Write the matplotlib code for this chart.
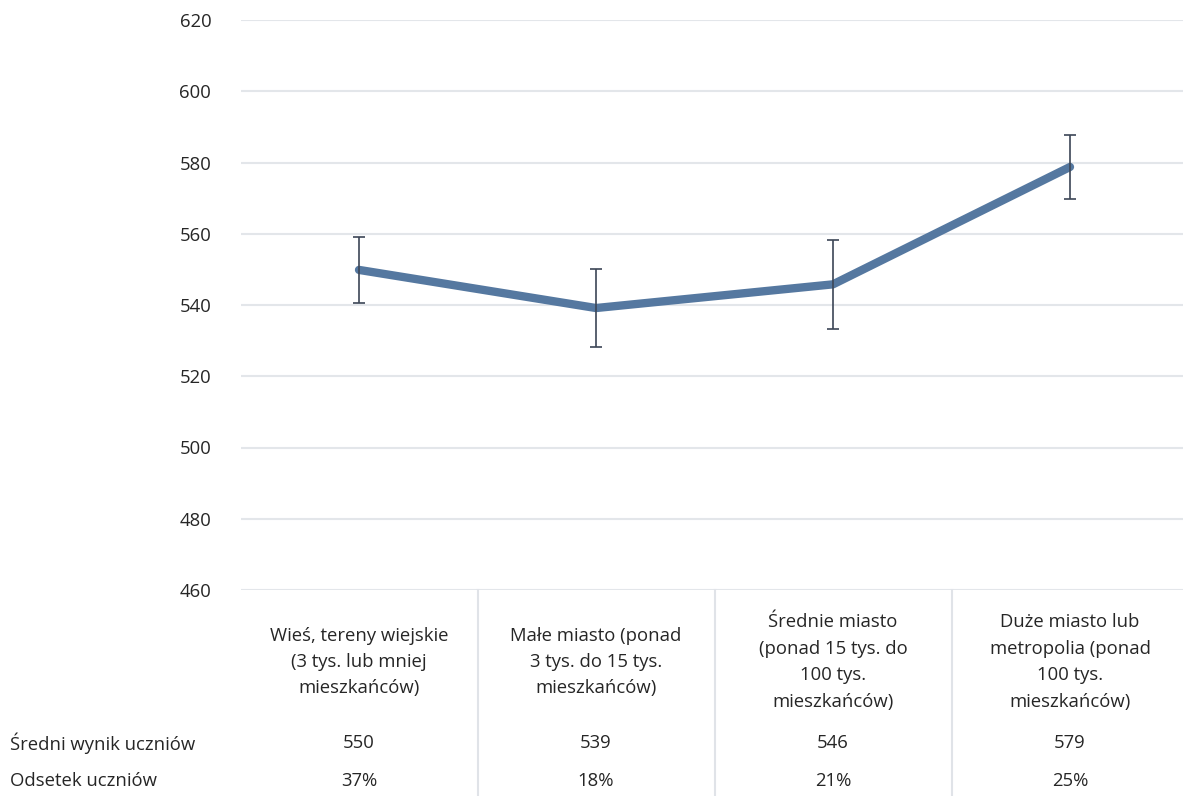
import matplotlib.pyplot as plt
from matplotlib.transforms import blended_transform_factory

plt.rcParams['font.family'] = ['Open Sans', 'DejaVu Sans']

# Dane
kategorie = [
    "Wieś, tereny wiejskie\n(3 tys. lub mniej\nmieszkańców)",
    "Małe miasto (ponad\n3 tys. do 15 tys.\nmieszkańców)",
    "Średnie miasto\n(ponad 15 tys. do\n100 tys.\nmieszkańców)",
    "Duże miasto lub\nmetropolia (ponad\n100 tys.\nmieszkańców)",
]
wyniki = [549.85, 539.15, 545.8, 578.75]
bledy = [9.3, 11.0, 12.5, 9.0]
wynik_etykiety = ["550", "539", "546", "579"]
odsetek = ["37%", "18%", "21%", "25%"]
wiersze = ["Średni wynik uczniów", "Odsetek uczniów"]
y_ticks = [460, 480, 500, 520, 540, 560, 580, 600, 620]

W, H = 1183, 796
fs = 13.3
fig = plt.figure(figsize=(W / 100, H / 100), dpi=100)
# obszar wykresu w pikselach: x 240.5-1188.5, y 20-590
ax = fig.add_axes([240.5 / W, 1 - 590 / H, 948 / W, 570 / H])

kolor_txt = '#262626'
x = list(range(len(wyniki)))
ax.plot(x, wyniki, color='#5578A0', lw=6, solid_capstyle='round',
        solid_joinstyle='round', zorder=3)
ax.errorbar(x, wyniki, yerr=bledy, fmt='none', ecolor='#3C4656',
            elinewidth=1.2, capsize=4.5, capthick=1.2, zorder=4)

ax.set_xlim(-0.5, 3.5)
ax.set_ylim(460, 620)
ax.set_yticks(y_ticks)
ax.set_xticks([])
ax.grid(axis='y', color='#E3E6EA', lw=1.5, zorder=0)
ax.tick_params(axis='y', length=0, pad=21, labelsize=fs, labelcolor=kolor_txt)
for s in ax.spines.values():
    s.set_visible(False)

# tabela pod wykresem
tr = blended_transform_factory(ax.transData, fig.transFigure)
for i in range(1, 4):
    ax.plot([i - 0.5, i - 0.5], [0, 1 - 590 / H], transform=tr,
            color='#E0E3E8', lw=1.5, clip_on=False)

for i, k in enumerate(kategorie):
    ax.text(i, 1 - 662 / H, k, transform=tr, ha='center', va='center',
            fontsize=fs, color=kolor_txt, linespacing=1.6)
    ax.text(i, 1 - 743 / H, wynik_etykiety[i], transform=tr, ha='center',
            va='center', fontsize=fs, color=kolor_txt)
    ax.text(i, 1 - 781 / H, odsetek[i], transform=tr, ha='center',
            va='center', fontsize=fs, color=kolor_txt)

for j, w in enumerate(wiersze):
    fig.text(10 / W, 1 - (743 + 38 * j) / H, w, ha='left', va='center',
             fontsize=fs, color=kolor_txt)

fig.savefig('out.png', dpi=100)
